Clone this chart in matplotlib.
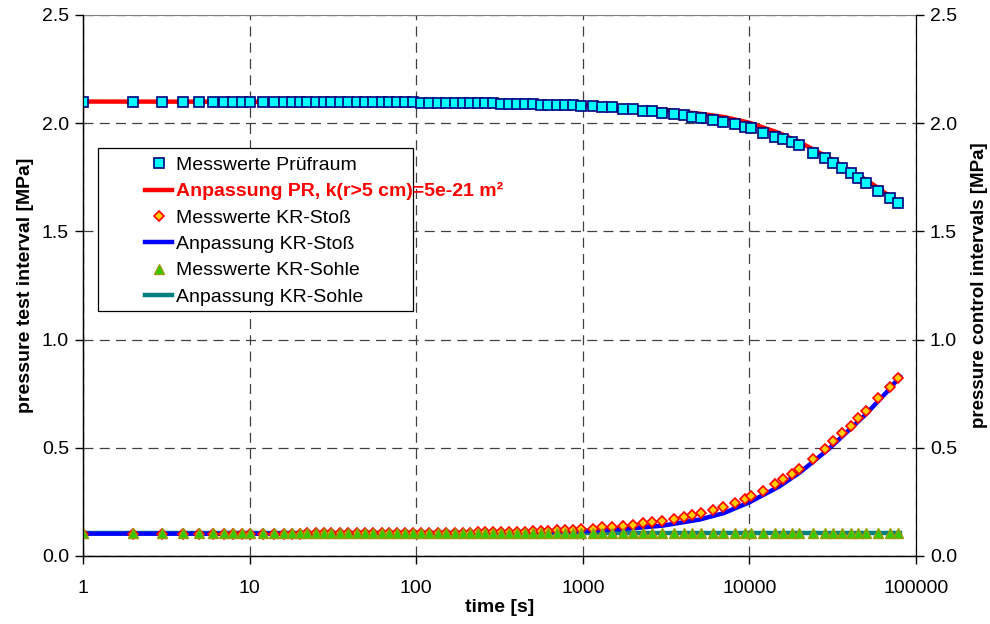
import matplotlib
matplotlib.use("Agg")
import matplotlib.pyplot as plt
from matplotlib.patches import Rectangle
from matplotlib.ticker import FixedLocator, FixedFormatter, NullLocator

plt.rcParams['font.family'] = ['Liberation Sans', 'DejaVu Sans']

# ---------------- data ----------------
# measured times [s] (early part, then the part where pressure changes)
t_early = [1, 2, 3, 4, 5, 6, 7, 8, 9, 10,
           12, 14, 16, 18, 20, 22, 25, 28, 31, 35, 39, 44, 49, 55, 62, 69, 77, 86, 96,
           107, 120, 135, 150, 170, 190, 210, 235, 260, 290, 325, 360, 400, 450, 500,
           560, 620, 700, 780, 870, 970, 1150]
t_late = [1304, 1497, 1742, 2000, 2297, 2603, 2988, 3526, 4049, 4522, 5120, 6043,
          6946, 8197, 9414, 10230, 12080, 14250, 15920, 18030, 19860, 24100, 28440,
          31770, 35970, 40740, 44870, 50100, 59140, 69850, 78000]

pr_early = [2.100, 2.100, 2.100, 2.100, 2.100, 2.100, 2.100, 2.100, 2.100, 2.100,
            2.100, 2.100, 2.100, 2.100, 2.099, 2.099, 2.099, 2.099, 2.099, 2.098,
            2.098, 2.098, 2.098, 2.097, 2.097, 2.097, 2.096, 2.096, 2.096,
            2.095, 2.095, 2.095, 2.094, 2.094, 2.093, 2.093, 2.092, 2.092, 2.091,
            2.090, 2.090, 2.089, 2.088, 2.087, 2.086, 2.085, 2.084, 2.083, 2.082,
            2.080, 2.078]
pr_late = [2.076, 2.073, 2.067, 2.064, 2.058, 2.056, 2.049, 2.041, 2.038, 2.030,
           2.023, 2.013, 2.007, 1.996, 1.982, 1.976, 1.956, 1.938, 1.926, 1.913,
           1.898, 1.861, 1.838, 1.815, 1.793, 1.768, 1.745, 1.722, 1.685, 1.653,
           1.630]

stoss_early = [0.103, 0.103, 0.103, 0.103, 0.103, 0.103, 0.103, 0.103, 0.103, 0.103,
               0.103, 0.103, 0.103, 0.103, 0.103, 0.104, 0.104, 0.104, 0.104, 0.104,
               0.104, 0.104, 0.105, 0.105, 0.105, 0.105, 0.105, 0.106, 0.106,
               0.106, 0.106, 0.107, 0.107, 0.108, 0.108, 0.108, 0.109, 0.109, 0.110,
               0.110, 0.111, 0.112, 0.113, 0.114, 0.115, 0.116, 0.118, 0.119, 0.121,
               0.123, 0.127]
stoss_late = [0.133, 0.135, 0.140, 0.145, 0.151, 0.156, 0.163, 0.171, 0.179, 0.188,
              0.197, 0.213, 0.228, 0.245, 0.262, 0.277, 0.302, 0.331, 0.354, 0.379,
              0.402, 0.450, 0.494, 0.531, 0.567, 0.601, 0.636, 0.672, 0.729, 0.782,
              0.821]

sohle_level = 0.104

t_fit = [1, 10, 100, 300, 1000, 2000, 3000, 5000, 7000, 10000, 15000, 20000,
         30000, 40000, 50000, 60000, 70000, 80000]
fit_pr = [2.100, 2.099, 2.096, 2.092, 2.084, 2.072, 2.062, 2.044, 2.029, 2.002,
          1.955, 1.912, 1.840, 1.782, 1.738, 1.698, 1.660, 1.625]
fit_stoss = [0.103, 0.103, 0.105, 0.107, 0.115, 0.128, 0.140, 0.168, 0.198, 0.248,
             0.320, 0.385, 0.495, 0.585, 0.655, 0.720, 0.775, 0.830]
fit_sohle_level = 0.104

x_ticks = [1, 10, 100, 1000, 10000, 100000]
x_ticklabels = ["1", "10", "100", "1000", "10000", "100000"]
y_ticks = [0.0, 0.5, 1.0, 1.5, 2.0, 2.5]
y_ticklabels = ["0.0", "0.5", "1.0", "1.5", "2.0", "2.5"]

# ------------- plot ------------------
t_meas = t_early + t_late
p_pr = pr_early + pr_late
p_stoss = stoss_early + stoss_late
p_sohle = [sohle_level] * len(t_meas)
fit_sohle = [fit_sohle_level] * len(t_fit)

FS = 14

fig = plt.figure(figsize=(9.9, 6.24), dpi=100)
ax = fig.add_axes([0.0838, 0.109, 0.8415, 0.867])

ax.plot(t_fit, fit_sohle, color='#008080', lw=3.2, zorder=2,
        label='Anpassung KR-Sohle')
ax.plot(t_meas, p_pr, ls='none', marker='s', ms=6.5, mfc='#00FFFF',
        mec='#000080', mew=1.2, zorder=3, label='Messwerte Prüfraum')
ax.plot(t_fit, fit_pr, color='#FF0000', lw=3.2, zorder=2,
        label='Anpassung PR, k(r>5 cm)=5e-21 m²')
ax.plot(t_meas, p_stoss, ls='none', marker='D', ms=5, mfc='#FFCC00',
        mec='#FF0000', mew=1.2, zorder=3, label='Messwerte KR-Stoß')
ax.plot(t_fit, fit_stoss, color='#0000FF', lw=3.2, zorder=2,
        label='Anpassung KR-Stoß')
ax.plot(t_meas, p_sohle, ls='none', marker='^', ms=6.5, mfc='#33CC00',
        mec='#999900', mew=1.0, zorder=3, label='Messwerte KR-Sohle')

ax.set_xscale('log')
ax.set_xlim(1, 100000)
ax.set_ylim(0, 2.5)
ax.xaxis.set_major_locator(FixedLocator(x_ticks))
ax.xaxis.set_major_formatter(FixedFormatter(x_ticklabels))
ax.xaxis.set_minor_locator(NullLocator())
ax.yaxis.set_major_locator(FixedLocator(y_ticks))
ax.yaxis.set_major_formatter(FixedFormatter(y_ticklabels))

ax.grid(True, which='major', color='#404040', ls=(0, (8, 5)), lw=0.9)
ax.set_axisbelow(True)
ax.tick_params(axis='both', direction='out', length=6, width=1, labelsize=FS,
               colors='black')
ax.tick_params(axis='x', pad=11)
ax.tick_params(axis='y', pad=4)
for s in ['left', 'bottom']:
    ax.spines[s].set_color('black')
    ax.spines[s].set_linewidth(1.0)
ax.spines['top'].set_color('#808080')
ax.spines['top'].set_linewidth(0.8)
ax.spines['right'].set_color('black')

ax.set_xlabel('time [s]', fontsize=FS, fontweight='bold', labelpad=2)
ax.set_ylabel('pressure test interval [MPa]', fontsize=FS, fontweight='bold',
              labelpad=6)

ax2 = ax.twinx()
ax2.set_ylim(0, 2.5)
ax2.yaxis.set_major_locator(FixedLocator(y_ticks))
ax2.yaxis.set_major_formatter(FixedFormatter(y_ticklabels))
ax2.tick_params(axis='y', direction='out', length=6, width=1, labelsize=FS, pad=4)
ax2.spines['top'].set_visible(False)
ax2.set_ylabel('pressure control intervals [MPa]', fontsize=13.5,
               fontweight='bold', labelpad=10)

handles, labels = ax.get_legend_handles_labels()
order = ['Messwerte Prüfraum', 'Anpassung PR, k(r>5 cm)=5e-21 m²',
         'Messwerte KR-Stoß', 'Anpassung KR-Stoß', 'Messwerte KR-Sohle',
         'Anpassung KR-Sohle']
hd = dict(zip(labels, handles))
leg = ax2.legend([hd[k] for k in order], order, loc='upper left',
                 bbox_to_anchor=(0.0744, 0.7395), fontsize=FS, frameon=False,
                 handlelength=1.4, handletextpad=0.2, labelspacing=0.45,
                 borderpad=0, borderaxespad=0)
for txt in leg.get_texts():
    if txt.get_text().startswith('Anpassung PR'):
        txt.set_color('#FF0000')
        txt.set_fontweight('bold')
leg.set_zorder(6)

# legend frame (narrower than the long red entry, as in the original)
frame = Rectangle((0.018, 0.453), 0.378, 0.301, transform=ax2.transAxes,
                  facecolor='white', edgecolor='black', lw=0.9, zorder=5)
ax2.add_patch(frame)

fig.savefig('out.png', dpi=100)
